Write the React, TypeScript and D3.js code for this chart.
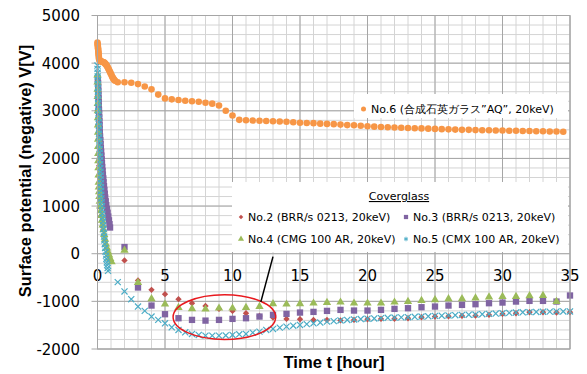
import React, { useEffect, useRef } from 'react';
import * as d3 from 'd3';

// axis ticks
const xTicks = [0, 5, 10, 15, 20, 25, 30, 35];
const yTicks = [-2000, -1000, 0, 1000, 2000, 3000, 4000, 5000];

// No.6 (orange circles) : [time h, V]
const no6 = [
  [0, 4430], [0.01, 4400], [0.02, 4370], [0.03, 4340], [0.04, 4310], [0.05, 4280], [0.06, 4250], [0.07, 4220],
  [0.08, 4190], [0.09, 4160], [0.1, 4130], [0.11, 4100], [0.13, 4075], [0.16, 4055], [0.2, 4045], [0.25, 4040],
  [0.3, 4035], [0.35, 4030], [0.4, 4025], [0.45, 4020], [0.5, 4010], [0.55, 3995], [0.6, 3980], [0.65, 3960],
  [0.7, 3940], [0.75, 3915], [0.8, 3890], [0.85, 3860], [0.9, 3830], [0.95, 3800], [1.0, 3770], [1.05, 3740],
  [1.1, 3710], [1.15, 3685], [1.2, 3660], [1.25, 3645], [1.3, 3630],
  [1.5, 3600], [2, 3600], [2.5, 3590], [3, 3560], [3.5, 3510], [4, 3450], [4.5, 3340], [5, 3260],
  [5.5, 3240], [6, 3225], [6.5, 3210], [7, 3200], [7.5, 3190], [8, 3170], [8.5, 3150], [9, 3110],
  [9.5, 3000], [10, 2900], [10.5, 2810], [11, 2800], [11.5, 2795], [12, 2790], [12.5, 2785], [13, 2780],
  [13.5, 2775], [14, 2770], [14.5, 2760], [15, 2750], [15.5, 2745], [16, 2740], [16.5, 2730], [17, 2725],
  [17.5, 2720], [18, 2710], [18.5, 2700], [19, 2695], [19.5, 2685], [20, 2675], [20.5, 2667], [21, 2660],
  [21.5, 2655], [22, 2650], [22.5, 2645], [23, 2640], [23.5, 2635], [24, 2630], [24.5, 2625], [25, 2620],
  [25.5, 2615], [26, 2610], [26.5, 2605], [27, 2600], [27.5, 2600], [28, 2595], [28.5, 2590], [29, 2590],
  [29.5, 2585], [30, 2585], [30.5, 2580], [31, 2580], [31.5, 2575], [32, 2575], [32.5, 2570], [33, 2570],
  [33.5, 2565], [34, 2565], [34.5, 2560],
];

// No.2 (red diamonds)
const no2 = [
  [0, 3300], [0.02, 3000], [0.04, 2700], [0.07, 2400], [0.1, 2100], [0.13, 1850], [0.16, 1600], [0.19, 1350],
  [0.22, 1150], [0.26, 950], [0.3, 800], [0.34, 680], [0.38, 580], [0.42, 500],
  [2, -140], [3, -561], [4, -758], [5, -849], [6, -954], [7, -1039], [8, -1095], [9, -1158], [10, -1200],
  [11, -1249], [12, -1305], [13, -1340], [14, -1368], [15, -1375], [16, -1389], [17, -1389], [18, -1400],
  [19, -1389], [20, -1375], [21, -1368], [22, -1365], [23, -1354], [24, -1333], [25, -1319], [26, -1315],
  [27, -1305], [28, -1300], [29, -1284], [30, -1263], [31, -1249], [32, -1228], [33, -1228], [34, -1235],
  [35, -1228],
];

// No.3 (purple squares)
const no3 = [
  [0.03, 3660], [0.04, 3580], [0.05, 3500], [0.06, 3420], [0.07, 3340], [0.08, 3260], [0.09, 3180], [0.1, 3100],
  [0.11, 3020], [0.12, 2940], [0.13, 2860], [0.14, 2780], [0.15, 2700], [0.16, 2620], [0.17, 2540], [0.19, 2460],
  [0.21, 2380], [0.23, 2300], [0.25, 2220], [0.27, 2140], [0.29, 2060], [0.31, 1980], [0.33, 1900], [0.35, 1820],
  [0.38, 1740], [0.4, 1660], [0.43, 1580], [0.45, 1500], [0.48, 1420], [0.51, 1340], [0.54, 1260], [0.57, 1180],
  [0.61, 1100], [0.65, 1020], [0.7, 940], [0.75, 860], [0.8, 780], [0.85, 700], [0.89, 620], [0.93, 550],
  [2, 140], [3, -709], [4, -1088], [5, -1270], [6, -1354], [7, -1389], [8, -1404], [9, -1389], [10, -1368],
  [11, -1354], [12, -1319], [13, -1284], [14, -1263], [15, -1235], [16, -1221], [17, -1200], [18, -1179],
  [19, -1193], [20, -1193], [21, -1179], [22, -1158], [23, -1144], [24, -1123], [25, -1109], [26, -1088],
  [27, -1074], [28, -1060], [29, -1039], [30, -1025], [31, -1004], [32, -990], [33, -990], [34, -1004],
  [35, -877],
];

// No.4 (green triangles)
const no4 = [
  [0, 3750], [0.005, 3600], [0.01, 3450], [0.015, 3300], [0.02, 3150], [0.025, 3000], [0.03, 2850], [0.035, 2700],
  [0.04, 2550], [0.045, 2400], [0.05, 2250], [0.055, 2100], [0.06, 1950], [0.07, 1800], [0.08, 1650], [0.09, 1500],
  [0.1, 1400], [0.12, 1300], [0.14, 1200], [0.17, 1100], [0.2, 1000], [0.24, 900], [0.28, 800], [0.33, 700],
  [0.38, 600], [0.44, 500], [0.5, 400], [0.56, 300], [0.63, 200], [0.7, 120], [0.78, 40], [0.86, -30],
  [0.94, -100], [1.04, -170],
  [2, 70], [3, -604], [4, -947], [5, -1060], [6, -1130], [7, -1158], [8, -1165], [9, -1144], [10, -1144],
  [11, -1130], [12, -1109], [13, -1053], [14, -1060], [15, -1053], [16, -1039], [17, -1025], [18, -1018],
  [19, -1039], [20, -1039], [21, -1039], [22, -1018], [23, -1004], [24, -983], [25, -968], [26, -947],
  [27, -947], [28, -933], [29, -912], [30, -898], [31, -898], [32, -884], [33, -877], [34, -1004],
];

// No.5 (cyan crosses)
const no5 = [
  [0, 3950], [0.005, 3880], [0.01, 3800], [0.015, 3720], [0.02, 3640], [0.025, 3560], [0.03, 3480], [0.035, 3400],
  [0.04, 3320], [0.045, 3240], [0.05, 3160], [0.055, 3080], [0.06, 3000], [0.07, 2920], [0.08, 2840], [0.09, 2760],
  [0.1, 2680], [0.11, 2600], [0.12, 2520], [0.13, 2440], [0.14, 2360], [0.15, 2280], [0.16, 2200], [0.17, 2120],
  [0.18, 2040], [0.19, 1960], [0.2, 1880], [0.21, 1800], [0.22, 1720], [0.23, 1640], [0.24, 1560], [0.25, 1480],
  [0.26, 1400], [0.27, 1320], [0.28, 1240], [0.29, 1160], [0.31, 1080], [0.33, 1000], [0.35, 920], [0.37, 840],
  [0.39, 760], [0.41, 680], [0.43, 600], [0.45, 520], [0.47, 440], [0.49, 360], [0.51, 280], [0.54, 200],
  [0.57, 120], [0.6, 40], [0.63, -40], [0.66, -110], [0.69, -180], [0.72, -240], [0.75, -300], [0.78, -360],
  [1.5, -596], [2, -793], [2.5, -954], [3, -1109], [3.5, -1200], [4, -1319], [4.5, -1389], [5, -1460],
  [5.5, -1544], [6, -1600], [6.5, -1649], [7, -1684], [7.5, -1705], [8, -1719], [8.5, -1719], [9, -1719],
  [9.5, -1715], [10, -1705], [10.5, -1691], [11, -1684], [11.5, -1656], [12, -1635], [12.5, -1600], [13, -1579],
  [13.5, -1551], [14, -1530], [14.5, -1510], [15, -1495], [15.5, -1478], [16, -1460], [16.5, -1445], [17, -1425],
  [17.5, -1415], [18, -1400], [18.5, -1390], [19, -1380], [19.5, -1372], [20, -1365], [20.5, -1358], [21, -1352],
  [21.5, -1346], [22, -1340], [22.5, -1336], [23, -1332], [23.5, -1325], [24, -1319], [24.5, -1313], [25, -1305],
  [25.5, -1300], [26, -1296], [26.5, -1290], [27, -1284], [27.5, -1280], [28, -1276], [28.5, -1270], [29, -1263],
  [29.5, -1256], [30, -1249], [30.5, -1242], [31, -1235], [31.5, -1230], [32, -1226], [32.5, -1222], [33, -1218],
  [33.5, -1215], [34, -1212], [34.5, -1212], [35, -1212],
];

const legendTitle = 'Coverglass';
const legendLabels = [
  'No.2 (BRR/s 0213, 20keV)',
  'No.3 (BRR/s 0213, 20keV)',
  'No.4 (CMG 100 AR, 20keV)',
  'No.5 (CMX 100 AR, 20keV)',
];
const no6Label = 'No.6 (合成石英ガラス”AQ”, 20keV)';

// red ellipse annotation (data units) and its pointer line
const ellipseCenter = [9.4, -1330];
const ellipseRadius = [3.8, 470];
const pointerLine = [[12.1, -1010], [13.0, -60]];

const App = () => {
  const svgRef = useRef(null);

  useEffect(() => {
    const width = 587;
    const height = 374;
    const margin = { top: 15.5, right: 17, bottom: 25, left: 97.5 };
    const plotW = width - margin.left - margin.right;
    const plotH = height - margin.top - margin.bottom;

    const svg = d3.select(svgRef.current);
    svg.selectAll('*').remove();

    const x = d3.scaleLinear().domain([0, 35]).range([margin.left, margin.left + plotW]);
    const y = d3.scaleLinear().domain([-2000, 5000]).range([margin.top + plotH, margin.top]);

    const tickFont = 'DejaVu Sans, Verdana, sans-serif';

    // minor grid
    const g = svg.append('g');
    g.selectAll('.vminor')
      .data(d3.range(0, 36, 1))
      .join('line')
      .attr('x1', d => x(d)).attr('x2', d => x(d))
      .attr('y1', y(-2000)).attr('y2', y(5000))
      .attr('stroke', '#d4d4d4').attr('stroke-width', 1);
    g.selectAll('.hminor')
      .data(d3.range(-2000, 5001, 200))
      .join('line')
      .attr('x1', x(0)).attr('x2', x(35))
      .attr('y1', d => y(d)).attr('y2', d => y(d))
      .attr('stroke', '#d4d4d4').attr('stroke-width', 1);

    // major grid
    g.selectAll('.vmajor')
      .data(xTicks)
      .join('line')
      .attr('x1', d => x(d)).attr('x2', d => x(d))
      .attr('y1', y(-2000)).attr('y2', y(5000))
      .attr('stroke', '#a6a6a6').attr('stroke-width', 1);
    g.selectAll('.hmajor')
      .data(yTicks)
      .join('line')
      .attr('x1', x(0) - 6).attr('x2', x(35))
      .attr('y1', d => y(d)).attr('y2', d => y(d))
      .attr('stroke', '#a6a6a6').attr('stroke-width', 1);

    // tick labels
    svg.append('g').selectAll('text')
      .data(yTicks)
      .join('text')
      .attr('x', 80)
      .attr('y', d => y(d) + 5.5)
      .attr('text-anchor', 'end')
      .attr('font-family', tickFont)
      .attr('font-size', 15)
      .text(d => d);

    svg.append('g').selectAll('text')
      .data(xTicks)
      .join('text')
      .attr('x', d => x(d))
      .attr('y', y(0) + 27)
      .attr('text-anchor', 'middle')
      .attr('font-family', tickFont)
      .attr('font-size', 15)
      .text(d => d);

    // axis titles
    svg.append('text')
      .attr('transform', `translate(31, ${(45 + 297) / 2}) rotate(-90)`)
      .attr('text-anchor', 'middle')
      .attr('font-family', 'Liberation Sans, Arial, sans-serif')
      .attr('font-weight', 'bold')
      .attr('font-size', 16.4)
      .text('Surface potential (negative) V[V]');

    svg.append('text')
      .attr('x', 334)
      .attr('y', 368)
      .attr('text-anchor', 'middle')
      .attr('font-family', 'Liberation Sans, Arial, sans-serif')
      .attr('font-weight', 'bold')
      .attr('font-size', 16.6)
      .text('Time t [hour]');

    // markers
    const diamond = d3.symbol().type(d3.symbolSquare).size(20)();
    const square = d3.symbol().type(d3.symbolSquare).size(40)();
    const triangle = d3.symbol().type(d3.symbolTriangle).size(30)();
    const cross = d3.symbol().type(d3.symbolTimes).size(26)();

    const drawSeries = (data, path, fill, stroke, rot) => {
      svg.append('g').selectAll('path')
        .data(data)
        .join('path')
        .attr('d', path)
        .attr('transform', d => `translate(${x(d[0])},${y(d[1])})${rot ? ' rotate(45)' : ''}`)
        .attr('fill', fill)
        .attr('stroke', stroke)
        .attr('stroke-width', stroke === 'none' ? 0 : 1.2);
    };

    drawSeries(no2, diamond, '#C0504D', 'none', true);
    drawSeries(no3, square, '#8064A2', 'none', false);
    drawSeries(no4, triangle, '#9BBB59', 'none', false);
    drawSeries(no5, cross, 'none', '#4BACC6', false);

    svg.append('g').selectAll('circle')
      .data(no6)
      .join('circle')
      .attr('cx', d => x(d[0]))
      .attr('cy', d => y(d[1]))
      .attr('r', 3.3)
      .attr('fill', '#F79646');

    // plot border
    svg.append('rect')
      .attr('x', x(0)).attr('y', y(5000))
      .attr('width', plotW).attr('height', plotH)
      .attr('fill', 'none').attr('stroke', '#a6a6a6');

    // legend No.6
    const l1 = svg.append('g');
    l1.append('rect')
      .attr('x', 354).attr('y', 94).attr('width', 214).attr('height', 24)
      .attr('fill', '#fff');
    l1.append('circle').attr('cx', 363.5).attr('cy', 109).attr('r', 2.5).attr('fill', '#F79646');
    l1.append('text')
      .attr('x', 371).attr('y', 113)
      .attr('font-family', tickFont)
      .attr('font-size', 11)
      .text(no6Label);

    // legend Coverglass
    const l2 = svg.append('g');
    l2.append('rect')
      .attr('x', 232).attr('y', 182).attr('width', 336).attr('height', 70)
      .attr('fill', '#fff');
    l2.append('text')
      .attr('x', 399).attr('y', 200)
      .attr('text-anchor', 'middle')
      .attr('font-family', tickFont)
      .attr('font-size', 11)
      .attr('text-decoration', 'underline')
      .text(legendTitle);

    const legendPos = [[241, 221], [406, 221], [241, 243], [406, 243]];
    const legendMarks = [
      { p: d3.symbol().type(d3.symbolSquare).size(10)(), fill: '#C0504D', stroke: 'none', rot: true },
      { p: d3.symbol().type(d3.symbolSquare).size(18)(), fill: '#8064A2', stroke: 'none', rot: false },
      { p: d3.symbol().type(d3.symbolTriangle).size(16)(), fill: '#9BBB59', stroke: 'none', rot: false },
      { p: d3.symbol().type(d3.symbolAsterisk).size(14)(), fill: 'none', stroke: '#4BACC6', rot: false },
    ];
    legendLabels.forEach((label, i) => {
      const [lx, ly] = legendPos[i];
      const m = legendMarks[i];
      l2.append('path')
        .attr('d', m.p)
        .attr('transform', `translate(${lx},${ly - 4})${m.rot ? ' rotate(45)' : ''}`)
        .attr('fill', m.fill)
        .attr('stroke', m.stroke);
      l2.append('text')
        .attr('x', lx + 7).attr('y', ly)
        .attr('font-family', tickFont)
        .attr('font-size', 11)
        .text(label);
    });

    // annotation
    svg.append('ellipse')
      .attr('cx', x(ellipseCenter[0]))
      .attr('cy', y(ellipseCenter[1]))
      .attr('rx', x(ellipseRadius[0]) - x(0))
      .attr('ry', y(0) - y(ellipseRadius[1]))
      .attr('fill', 'none')
      .attr('stroke', '#E8191E')
      .attr('stroke-width', 1.5);

    svg.append('line')
      .attr('x1', x(pointerLine[0][0])).attr('y1', y(pointerLine[0][1]))
      .attr('x2', x(pointerLine[1][0])).attr('y2', y(pointerLine[1][1]))
      .attr('stroke', '#000')
      .attr('stroke-width', 1.5);
  }, []);

  return (
    <svg
      ref={svgRef}
      width={587}
      height={374}
      style={{ position: 'absolute', left: 0, top: 0, background: '#fff' }}
    />
  );
};

export default App;
